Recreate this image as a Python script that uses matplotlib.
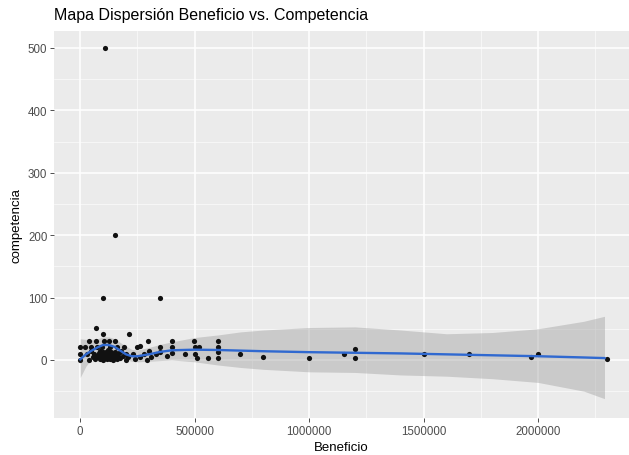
import numpy as np
import matplotlib
matplotlib.use("Agg")
import matplotlib.pyplot as plt
from matplotlib.ticker import MultipleLocator

plt.rcParams["font.family"] = ["Liberation Sans", "DejaVu Sans"]

# Datos: beneficio (eje x) y competencia (eje y)
beneficio = [
    109000, 153000, 100000, 349000, 68000, 99000, 211000, 298000,
    40000, 70000, 102000, 124000, 153000, 400000, 495000, 600000,
    0, 22000, 48000, 75000, 95000, 130000, 160000, 190000, 247000, 262000,
    349000, 400000, 502000, 521000, 600000,
    45000, 88000, 120000, 180000, 300000, 349000, 400000,
    0, 30000, 60000, 80000, 100000, 115000, 140000, 170000, 200000, 230000,
    280000, 330000, 458000, 502000, 600000, 699000, 1150000, 1502000, 1700000, 2000000,
    55000, 75000, 90000, 105000, 120000, 135000, 150000, 165000, 185000, 210000,
    260000, 310000, 378000, 800000, 1968000, 1201000,
    0, 40000, 65000, 85000, 100000, 110000, 130000, 145000, 160000, 200000,
    240000, 290000, 509000, 560000, 600000, 1001000, 1201000, 2300000,
    95000, 112000, 125000, 140000, 150000, 118000, 135000, 160000, 175000, 92000,
    80000, 105000,
]
competencia = [
    500, 200, 100, 100, 51, 42, 42, 30,
    30, 30, 30, 30, 30, 31, 31, 31,
    20, 20, 20, 21, 20, 20, 21, 20, 20, 22,
    20, 20, 21, 21, 21,
    15, 15, 16, 14, 15, 13, 11,
    10, 10, 10, 11, 12, 10, 10, 11, 10, 9,
    10, 9, 10, 10, 12, 10, 10, 10, 10, 10,
    5, 6, 7, 5, 6, 5, 7, 5, 6, 5,
    4, 5, 7, 5, 5, 18,
    0, 0, 2, 2, 0, 3, 2, 0, 2, 0,
    2, 0, 3, 3, 3, 3, 3, 1,
    8, 12, 8, 4, 12, 1, 12, 8, 3, 3,
    4, 9,
]

# Curva suavizada (loess) y su banda de confianza
suave_x = [0, 25000, 50000, 75000, 100000, 125000, 150000, 175000, 200000, 225000,
           250000, 300000, 350000, 400000, 500000, 600000, 700000, 800000, 1000000,
           1200000, 1400000, 1600000, 1800000, 2000000, 2200000, 2290000]
suave_y = [1, 9, 15, 20, 24, 24, 21, 15, 9, 6,
           6, 9, 13, 15.5, 16.5, 16, 15, 14, 12.5,
           11.5, 10.5, 9, 7.5, 6, 4, 3]
banda_inf = [-28, -10, 2, 8, 11, 11, 8, 3, 0, -2,
             -3, -2, -1, 0, -3, -8, -12, -15, -19,
             -20, -24, -26, -30, -36, -50, -62]
banda_sup = [34, 33, 33, 34, 37, 37, 34, 28, 22, 17,
             16, 20, 25, 29, 36, 40, 45, 48, 52,
             53, 48, 42, 44, 50, 62, 70]

fig = plt.figure(figsize=(6.29, 4.56), dpi=100)
ax = fig.add_axes([54 / 629, 1 - 419 / 456, 1 - 54 / 629, 387.5 / 456])
ax.set_facecolor("#EBEBEB")

ax.fill_between(suave_x, banda_inf, banda_sup, color="#999999", alpha=0.4, lw=0, zorder=2)
ax.scatter(beneficio, competencia, s=14, color="#111111", lw=0, zorder=3)
ax.plot(suave_x, suave_y, color="#3069D0", lw=1.7, zorder=4)

ax.set_xlim(-114500, 2397000)
ax.set_ylim(-93, 528)
ax.xaxis.set_major_locator(MultipleLocator(500000))
ax.xaxis.set_minor_locator(MultipleLocator(250000))
ax.yaxis.set_major_locator(MultipleLocator(100))
ax.yaxis.set_minor_locator(MultipleLocator(50))
ax.ticklabel_format(style="plain", axis="x")

ax.grid(which="major", color="white", lw=1.1, zorder=0)
ax.grid(which="minor", color="white", lw=0.5, alpha=0.8, zorder=0)
ax.set_axisbelow(True)
for s in ax.spines.values():
    s.set_visible(False)

ax.tick_params(which="major", length=2.75, width=0.6, color="#333333",
               labelcolor="#4D4D4D", labelsize=8.3, pad=2)
ax.tick_params(which="minor", length=0)

ax.set_xlabel("Beneficio", fontsize=9.5, labelpad=3)
ax.set_ylabel("competencia", fontsize=9.5, labelpad=4)
ax.set_title("Mapa Dispersión Beneficio vs. Competencia", loc="left", fontsize=11.5, pad=8)

fig.savefig("out.png", dpi=100)
